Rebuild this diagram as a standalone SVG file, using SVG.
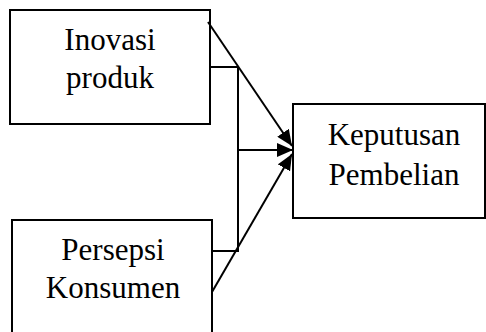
<svg xmlns="http://www.w3.org/2000/svg" width="486" height="332" viewBox="0 0 486 332">
<defs>
<style>
.box{fill:#fff;stroke:#000;stroke-width:2}
.lbl{font-size:31px;fill:#000;text-anchor:middle}
.ln{stroke:#000;stroke-width:2;fill:none}
</style>
<marker id="ah" viewBox="0 0 16 14" refX="16" refY="7" markerWidth="16" markerHeight="14" markerUnits="userSpaceOnUse" orient="auto">
<path d="M0,0 L16,7 L0,14 Z" fill="#000"/>
</marker>
</defs>
<rect width="486" height="332" fill="#fff"/>
<g id="inovasi">
<rect class="box" x="10" y="10" width="200" height="114"/>
<text class="lbl" font-family="'Liberation Serif', 'Times New Roman', serif" x="110" y="50">Inovasi</text>
<text class="lbl" font-family="'Liberation Serif', 'Times New Roman', serif" x="110" y="88">produk</text>
</g>
<g id="persepsi">
<rect class="box" x="12" y="220" width="200" height="120"/>
<text class="lbl" font-family="'Liberation Serif', 'Times New Roman', serif" x="113" y="260">Persepsi</text>
<text class="lbl" font-family="'Liberation Serif', 'Times New Roman', serif" x="113" y="298">Konsumen</text>
</g>
<g id="keputusan">
<rect class="box" x="293" y="104" width="192" height="114"/>
<text class="lbl" font-family="'Liberation Serif', 'Times New Roman', serif" x="394" y="145">Keputusan</text>
<text class="lbl" font-family="'Liberation Serif', 'Times New Roman', serif" x="394" y="185">Pembelian</text>
</g>
<g id="connectors">
<polyline class="ln" points="210,67 238,67 238,251 212,251"/>
<line class="ln" x1="208" y1="22" x2="292" y2="146" marker-end="url(#ah)"/>
<line class="ln" x1="238" y1="150" x2="293" y2="150" marker-end="url(#ah)"/>
<line class="ln" x1="212" y1="292" x2="292" y2="154" marker-end="url(#ah)"/>
</g>
</svg>
